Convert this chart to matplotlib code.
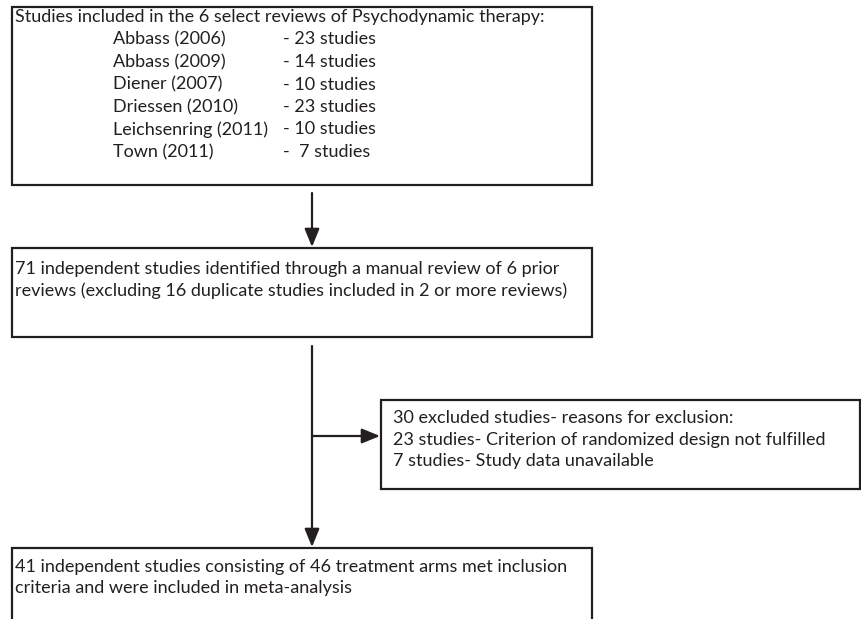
import matplotlib
matplotlib.use("Agg")
import matplotlib.pyplot as plt
from matplotlib.patches import Rectangle

# flowchart content
header = "Studies included in the 6 select reviews of Psychodynamic therapy:"
reviews = ["Abbass (2006)", "Abbass (2009)", "Diener (2007)", "Driessen (2010)",
           "Leichsenring (2011)", "Town (2011)"]
review_counts = ["- 23 studies", "- 14 studies", "- 10 studies", "- 23 studies",
                 "- 10 studies", "-  7 studies"]
box2_lines = ["71 independent studies identified through a manual review of 6 prior",
              "reviews (excluding 16 duplicate studies included in 2 or more reviews)"]
excl_lines = ["30 excluded studies- reasons for exclusion:",
              "23 studies- Criterion of randomized design not fulfilled",
              "7 studies- Study data unavailable"]
final_lines = ["41 independent studies consisting of 46 treatment arms met inclusion",
               "criteria and were included in meta-analysis"]

INK = "#231f20"
W, H = 861, 619

plt.rcParams['font.family'] = ['Lato', 'DejaVu Sans']
fig = plt.figure(figsize=(W / 100, H / 100), dpi=100)
ax = fig.add_axes([0, 0, 1, 1])
ax.set_xlim(0, W)
ax.set_ylim(H, 0)
ax.axis('off')

FS = 13.0
LW = 1.6


def box(x0, y0, x1, y1):
    ax.add_patch(Rectangle((x0, y0), x1 - x0, y1 - y0, fill=False,
                           edgecolor=INK, linewidth=LW, clip_on=False))


def txt(x, y, s):
    ax.text(x, y, s, fontsize=FS, color=INK, ha='left', va='center')


def arrow(x0, y0, x1, y1):
    ax.annotate("", xy=(x1, y1), xytext=(x0, y0),
                arrowprops=dict(arrowstyle="-|>,head_length=1.1,head_width=0.45",
                                mutation_scale=10, color=INK, lw=LW,
                                shrinkA=0, shrinkB=0))


# box 1
box(12, 7, 592, 185)
txt(15, 17, header)
for i, (name, cnt) in enumerate(zip(reviews, review_counts)):
    y = 39.5 + i * 22.5
    txt(113, y, name)
    txt(283, y, cnt)

arrow(312, 193, 312, 247)

# box 2
box(12, 248, 592, 337)
for i, s in enumerate(box2_lines):
    txt(15, 269 + i * 21.5, s)

# vertical line with side branch
arrow(312, 346, 312, 547)
arrow(312, 436, 380, 436)

# exclusion box
box(381, 400, 860, 489)
for i, s in enumerate(excl_lines):
    txt(393, 418 + i * 21.5, s)

# final box (bottom cut off)
ax.plot([12, 12, 592, 592], [H + 5, 548, 548, H + 5], color=INK, lw=LW,
        solid_joinstyle='miter', clip_on=True)
for i, s in enumerate(final_lines):
    txt(15, 567 + i * 21.5, s)

fig.savefig("out.png", dpi=100)
